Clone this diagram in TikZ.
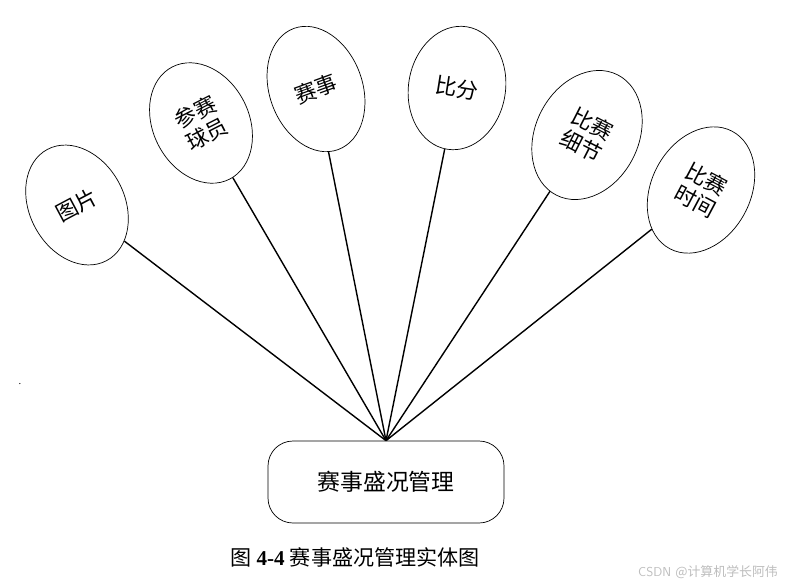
\documentclass[tikz,border=0pt]{standalone}
\usepackage{fontspec}
\setmainfont{Liberation Serif}
\newfontfamily\cjk{Noto Sans CJK SC}
\usepackage{tikz}
\usetikzlibrary{shapes.geometric, positioning}
\definecolor{mark}{HTML}{BDBDBD}

\begin{document}
\begin{tikzpicture}[
        x=0.03cm, y=-0.03cm,
        attr/.style={ellipse, draw, line width=0.6pt, inner sep=0pt, align=center,
                     font=\cjk\fontsize{18.5}{21}\selectfont},
        entity/.style={rectangle, rounded corners=0.75cm, draw, line width=0.6pt,
                       minimum width=7.08cm, minimum height=2.46cm,
                       font=\cjk\fontsize{19.5}{22}\selectfont},
        link/.style={line width=1.2pt}
      ]
        \useasboundingbox (0,0) rectangle (794,586);
        \node[entity] (mgmt) at (386,482) {赛事盛况管理};
        \node[attr, rotate=28, minimum width=2.85cm, minimum height=3.78cm] (pic) at (77,205) {图片};
        \node[attr, rotate=27, minimum width=2.88cm, minimum height=3.78cm] (player) at (201,123) {参赛\\球员};
        \node[attr, rotate=20, minimum width=2.79cm, minimum height=3.87cm] (match) at (316,89) {赛事};
        \node[attr, rotate=-9, minimum width=2.91cm, minimum height=3.72cm] (score) at (457,88) {比分};
        \node[attr, rotate=-27, minimum width=3.09cm, minimum height=4.05cm] (detail) at (587,135) {比赛\\细节};
        \node[attr, rotate=-28, minimum width=2.97cm, minimum height=3.99cm] (time) at (701,190) {比赛\\时间};
        \draw[link] (pic) -- (mgmt.north);
        \draw[link] (player) -- (mgmt.north);
        \draw[link] (match) -- (mgmt.north);
        \draw[link] (score) -- (mgmt.north);
        \draw[link] (detail) -- (mgmt.north);
        \draw[link] (time) -- (mgmt.north);
        % caption and stray marks
        \node[font=\fontsize{18}{20}\selectfont] (cap) at (355,557)
          {{\cjk 图} \textbf{4-4} {\cjk 赛事盛况管理实体图}};
        \node[font=\fontsize{11}{13}\selectfont, text=mark] (wm) at (708,572)
          {\sffamily CSDN {\cjk @计算机学长阿伟}};
        \node[inner sep=0pt, font=\small] (dot) at (20,384) {.};
      \end{tikzpicture}
\end{document}
